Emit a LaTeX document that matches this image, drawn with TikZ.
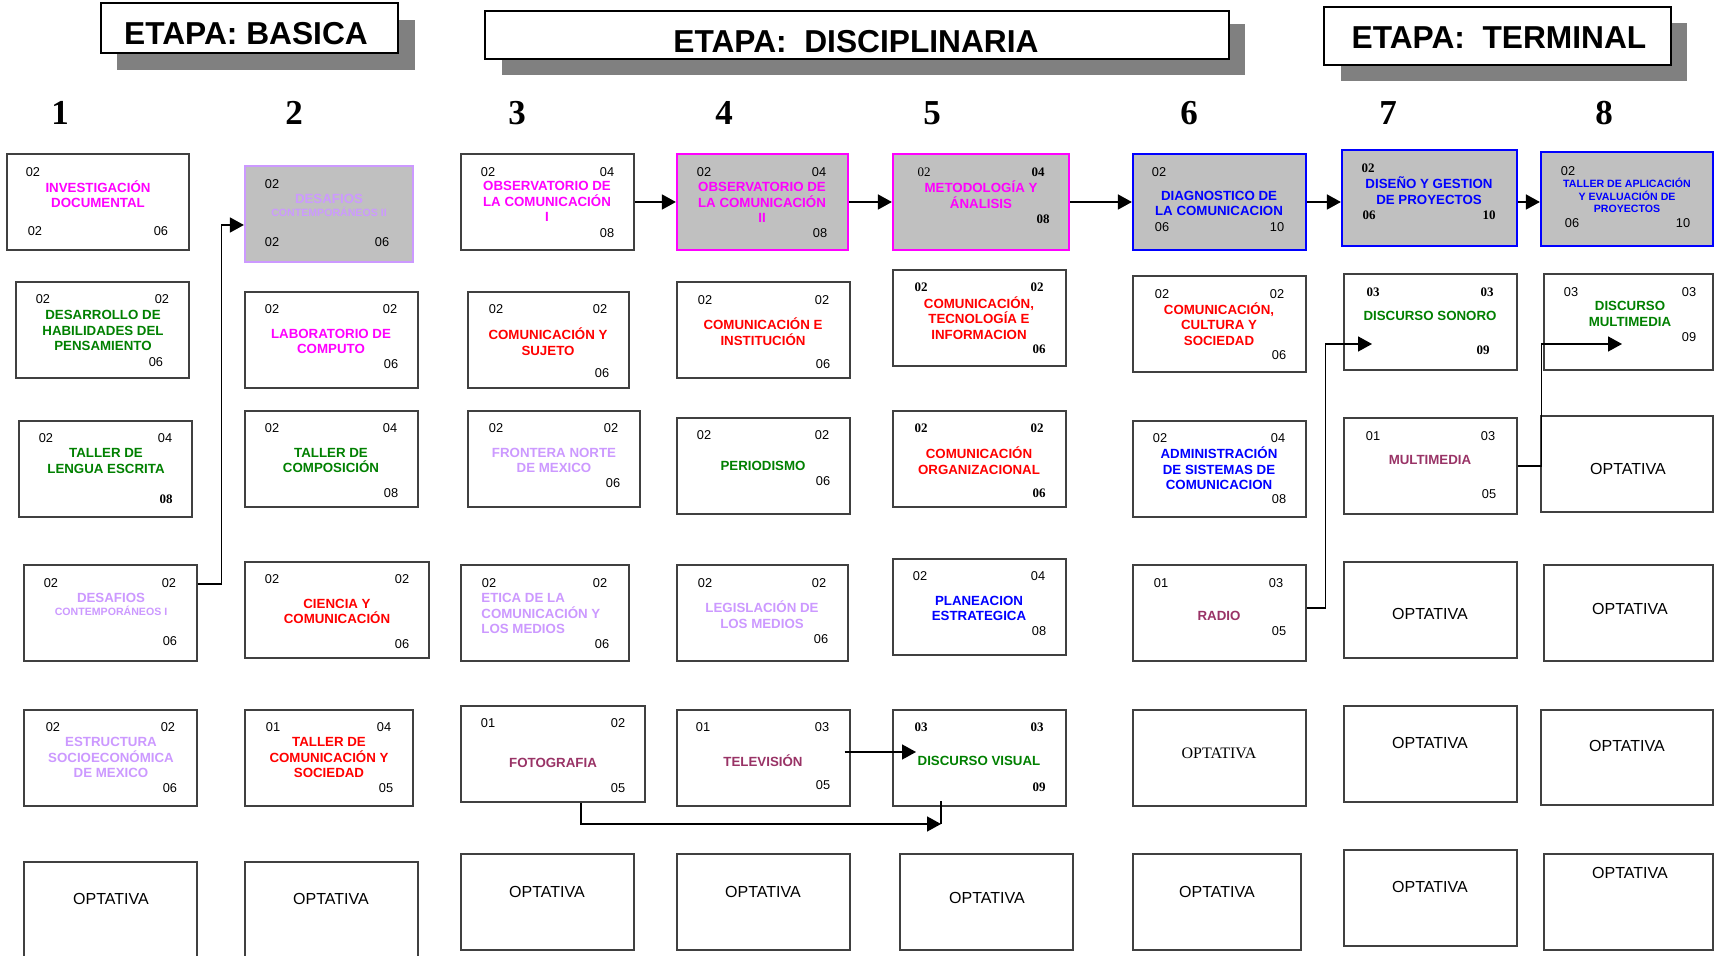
\documentclass[tikz,border=0pt]{standalone}
\usepackage{fontspec}
\setmainfont{Liberation Sans}
\newfontfamily\fSerif{Liberation Serif}
\usepackage{xcolor}
\definecolor{cBorde}{HTML}{404040}
\definecolor{cGris}{HTML}{C0C0C0}
\definecolor{cSombra}{HTML}{808080}
\definecolor{cMag}{HTML}{FF00FF}
\definecolor{cVerde}{HTML}{008000}
\definecolor{cRojo}{HTML}{FF0000}
\definecolor{cLav}{HTML}{CC99FF}
\definecolor{cAzul}{HTML}{0000FF}
\definecolor{cVino}{HTML}{993366}
\usetikzlibrary{arrows.meta,fit}
\newcommand{\fTit}{\bfseries\fontsize{6.65pt}{7.7pt}\selectfont}
\newcommand{\fSub}{\bfseries\fontsize{5.3pt}{6.25pt}\selectfont}
\newcommand{\fNum}{\fontsize{6.4pt}{7pt}\selectfont}
\newcommand{\fNumB}{\fSerif\bfseries\fontsize{6.5pt}{7pt}\selectfont}
\newcommand{\fNumS}{\fSerif\fontsize{6.5pt}{7pt}\selectfont}
\newcommand{\fOpt}{\fontsize{8pt}{9pt}\selectfont}
\newcommand{\fOptS}{\fSerif\fontsize{8pt}{9pt}\selectfont}
\newcommand{\fEtapa}{\bfseries\fontsize{15.85pt}{18pt}\selectfont}
\newcommand{\fSem}{\fSerif\bfseries\fontsize{17.5pt}{20pt}\selectfont}
\tikzset{
  node-curso/.style={draw=cBorde,line width=0.6pt,fill=white,inner sep=0pt},
  node-gris/.style={fill=cGris,line width=1.1pt},
  node-etapa/.style={draw=black,line width=0.9pt,fill=white,inner sep=0pt},
  sombra/.style={fill=cSombra},
  txt-etapa/.style={font=\fEtapa,inner sep=0pt},
  txt-sem/.style={font=\fSem,inner sep=0pt},
  txt-tit/.style={font=\fTit,align=center,inner sep=0pt},
  txt-sub/.style={font=\fSub,align=center,inner sep=0pt},
  txt-num/.style={font=\fNum,inner sep=0pt},
  txt-numb/.style={font=\fNumB,inner sep=0pt},
  txt-nums/.style={font=\fNumS,inner sep=0pt},
  txt-opt/.style={font=\fOpt,inner sep=0pt},
  arrow/.style={-{Triangle[length=7pt,width=7.5pt]},line width=0.8pt},
  arrow-line/.style={line width=0.8pt},
}

\begin{document}
\begin{tikzpicture}[x=0.5pt,y=-0.5pt]
  \useasboundingbox (0,0) rectangle (1714,956);
  % etapas
  \fill[sombra] (117,20) rectangle (415,70);
  \node[node-etapa,fit={(101,3) (398,53)}] (hBas) {};
  \node[txt-etapa] (hBas-t) at (246,34) {ETAPA: BASICA};
  \fill[sombra] (502,24) rectangle (1245,75);
  \node[node-etapa,fit={(485,11) (1229,59)}] (hDis) {};
  \node[txt-etapa] (hDis-t) at (856,42) {ETAPA:~~DISCIPLINARIA};
  \fill[sombra] (1341,23) rectangle (1687,81);
  \node[node-etapa,fit={(1324,7) (1671,65)}] (hTer) {};
  \node[txt-etapa] (hTer-t) at (1499,38) {ETAPA:~~TERMINAL};
  % semestres
  \node[txt-sem] (s1) at (60,113) {1};
  \node[txt-sem] (s2) at (294,113) {2};
  \node[txt-sem] (s3) at (517,113) {3};
  \node[txt-sem] (s4) at (724,113) {4};
  \node[txt-sem] (s5) at (932,113) {5};
  \node[txt-sem] (s6) at (1189,113) {6};
  \node[txt-sem] (s7) at (1388,113) {7};
  \node[txt-sem] (s8) at (1604,113) {8};

  % semestre 1
  \node[node-curso,fit={(7,154) (189,250)}] (c1a) {};
  \node[txt-tit,text=cMag] (c1a-t) at (98,194) {INVESTIGACIÓN\\DOCUMENTAL};
  \node[txt-num] (c1a-1) at (33,172) {02};
  \node[txt-num] (c1a-2) at (35,231) {02};
  \node[txt-num] (c1a-3) at (161,231) {06};
  \node[node-curso,fit={(16,282) (189,378)}] (c1b) {};
  \node[txt-tit,text=cVerde] (c1b-t) at (103,330.5) {DESARROLLO DE\\HABILIDADES DEL\\PENSAMIENTO};
  \node[txt-num] (c1b-1) at (43,299) {02};
  \node[txt-num] (c1b-2) at (162,299) {02};
  \node[txt-num] (c1b-3) at (156,362) {06};
  \node[node-curso,fit={(19,421) (192,517)}] (c1c) {};
  \node[txt-tit,text=cVerde] (c1c-t) at (106,461) {TALLER DE\\LENGUA ESCRITA};
  \node[txt-num] (c1c-1) at (46,438) {02};
  \node[txt-num] (c1c-2) at (165,438) {04};
  \node[txt-numb] (c1c-3) at (166,499) {08};
  \node[node-curso,fit={(24,565) (197,661)}] (c1d) {};
  \node[txt-tit,text=cLav] (c1d-t) at (111,604.5) {DESAFIOS\\[-1.3pt]{\fSub CONTEMPORÁNEOS I}};
  \node[txt-num] (c1d-1) at (51,583) {02};
  \node[txt-num] (c1d-2) at (169,583) {02};
  \node[txt-num] (c1d-3) at (170,641) {06};
  \node[node-curso,fit={(24,710) (197,806)}] (c1e) {};
  \node[txt-tit,text=cLav] (c1e-t) at (111,757.5) {ESTRUCTURA\\SOCIOECONÓMICA\\DE MEXICO};
  \node[txt-num] (c1e-1) at (53,727) {02};
  \node[txt-num] (c1e-2) at (168,727) {02};
  \node[txt-num] (c1e-3) at (170,788) {06};
  \node[node-curso,fit={(24,862) (197,958)}] (c1f) {};
  \node[txt-opt] (c1f-t) at (111,899) {OPTATIVA};

  % semestre 2
  \node[node-curso,node-gris,draw=cLav,fit={(245,166) (413,262)}] (c2a) {};
  \node[txt-tit,text=cLav] (c2a-t) at (329,205.5) {DESAFIOS\\[-1.3pt]{\fSub CONTEMPORÁNEOS II}};
  \node[txt-num] (c2a-1) at (272,184) {02};
  \node[txt-num] (c2a-2) at (272,242) {02};
  \node[txt-num] (c2a-3) at (382,242) {06};
  \node[node-curso,fit={(245,292) (418,388)}] (c2b) {};
  \node[txt-tit,text=cMag] (c2b-t) at (331,341.5) {LABORATORIO DE\\COMPUTO};
  \node[txt-num] (c2b-1) at (272,309) {02};
  \node[txt-num] (c2b-2) at (390,309) {02};
  \node[txt-num] (c2b-3) at (391,364) {06};
  \node[node-curso,fit={(245,411) (418,507)}] (c2c) {};
  \node[txt-tit,text=cVerde] (c2c-t) at (331,460.5) {TALLER DE\\COMPOSICIÓN};
  \node[txt-num] (c2c-1) at (272,428) {02};
  \node[txt-num] (c2c-2) at (390,428) {04};
  \node[txt-num] (c2c-3) at (391,493) {08};
  \node[node-curso,fit={(245,562) (429,658)}] (c2d) {};
  \node[txt-tit,text=cRojo] (c2d-t) at (337,611.5) {CIENCIA Y\\COMUNICACIÓN};
  \node[txt-num] (c2d-1) at (272,579) {02};
  \node[txt-num] (c2d-2) at (402,579) {02};
  \node[txt-num] (c2d-3) at (402,644) {06};
  \node[node-curso,fit={(245,710) (413,806)}] (c2e) {};
  \node[txt-tit,text=cRojo] (c2e-t) at (329,757.5) {TALLER DE\\COMUNICACIÓN Y\\SOCIEDAD};
  \node[txt-num] (c2e-1) at (273,727) {01};
  \node[txt-num] (c2e-2) at (384,727) {04};
  \node[txt-num] (c2e-3) at (386,788) {05};
  \node[node-curso,fit={(245,862) (418,958)}] (c2f) {};
  \node[txt-opt] (c2f-t) at (331,899) {OPTATIVA};

  % semestre 3
  \node[node-curso,fit={(461,154) (634,250)}] (c3a) {};
  \node[txt-tit,text=cMag] (c3a-t) at (547,201.5) {OBSERVATORIO DE\\LA COMUNICACIÓN\\I};
  \node[txt-num] (c3a-1) at (488,172) {02};
  \node[txt-num] (c3a-2) at (607,172) {04};
  \node[txt-num] (c3a-3) at (607,233) {08};
  \node[node-curso,fit={(468,292) (629,388)}] (c3b) {};
  \node[txt-tit,text=cRojo] (c3b-t) at (548,341.5) {COMUNICACIÓN Y\\SUJETO};
  \node[txt-num] (c3b-1) at (496,309) {02};
  \node[txt-num] (c3b-2) at (600,309) {02};
  \node[txt-num] (c3b-3) at (602,373) {06};
  \node[node-curso,fit={(468,411) (640,507)}] (c3c) {};
  \node[txt-tit,text=cLav] (c3c-t) at (554,460.5) {FRONTERA NORTE\\DE MEXICO};
  \node[txt-num] (c3c-1) at (496,428) {02};
  \node[txt-num] (c3c-2) at (611,428) {02};
  \node[txt-num] (c3c-3) at (613,483) {06};
  \node[node-curso,fit={(461,565) (629,661)}] (c3d) {};
  \node[txt-tit,align=left,anchor=west,text=cLav] (c3d-t) at (481,613.5) {ETICA DE LA\\COMUNICACIÓN Y\\LOS MEDIOS};
  \node[txt-num] (c3d-1) at (489,583) {02};
  \node[txt-num] (c3d-2) at (600,583) {02};
  \node[txt-num] (c3d-3) at (602,644) {06};
  \node[node-curso,fit={(461,706) (645,802)}] (c3e) {};
  \node[txt-tit,text=cVino] (c3e-t) at (553,763) {FOTOGRAFIA};
  \node[txt-num] (c3e-1) at (488,723) {01};
  \node[txt-num] (c3e-2) at (618,723) {02};
  \node[txt-num] (c3e-3) at (618,788) {05};
  \node[node-curso,fit={(461,854) (634,950)}] (c3f) {};
  \node[txt-opt] (c3f-t) at (547,892) {OPTATIVA};

  % semestre 4
  \node[node-curso,node-gris,draw=cMag,fit={(677,154) (848,250)}] (c4a) {};
  \node[txt-tit,text=cMag] (c4a-t) at (762,202.5) {OBSERVATORIO DE\\LA COMUNICACIÓN\\II};
  \node[txt-num] (c4a-1) at (704,172) {02};
  \node[txt-num] (c4a-2) at (819,172) {04};
  \node[txt-num] (c4a-3) at (820,233) {08};
  \node[node-curso,fit={(677,282) (850,378)}] (c4b) {};
  \node[txt-tit,text=cRojo] (c4b-t) at (763,331.5) {COMUNICACIÓN E\\INSTITUCIÓN};
  \node[txt-num] (c4b-1) at (705,300) {02};
  \node[txt-num] (c4b-2) at (822,300) {02};
  \node[txt-num] (c4b-3) at (823,364) {06};
  \node[node-curso,fit={(677,418) (850,514)}] (c4c) {};
  \node[txt-tit,text=cVerde] (c4c-t) at (763,466) {PERIODISMO};
  \node[txt-num] (c4c-1) at (704,435) {02};
  \node[txt-num] (c4c-2) at (822,435) {02};
  \node[txt-num] (c4c-3) at (823,481) {06};
  \node[node-curso,fit={(677,565) (848,661)}] (c4d) {};
  \node[txt-tit,text=cLav] (c4d-t) at (762,614.5) {LEGISLACIÓN DE\\LOS MEDIOS};
  \node[txt-num] (c4d-1) at (705,583) {02};
  \node[txt-num] (c4d-2) at (819,583) {02};
  \node[txt-num] (c4d-3) at (821,639) {06};
  \node[node-curso,fit={(677,710) (850,806)}] (c4e) {};
  \node[txt-tit,text=cVino] (c4e-t) at (763,761) {TELEVISIÓN};
  \node[txt-num] (c4e-1) at (703,727) {01};
  \node[txt-num] (c4e-2) at (822,727) {03};
  \node[txt-num] (c4e-3) at (823,785) {05};
  \node[node-curso,fit={(677,854) (850,950)}] (c4f) {};
  \node[txt-opt] (c4f-t) at (763,892) {OPTATIVA};

  % semestre 5
  \node[node-curso,node-gris,draw=cMag,fit={(893,154) (1069,250)}] (c5a) {};
  \node[txt-tit,text=cMag] (c5a-t) at (981,194.5) {METODOLOGÍA Y\\ÁNALISIS};
  \node[txt-nums] (c5a-1) at (924,172) {02};
  \node[txt-numb] (c5a-2) at (1038,172) {04};
  \node[txt-numb] (c5a-3) at (1043,219) {08};
  \node[node-curso,fit={(893,270) (1066,366)}] (c5b) {};
  \node[txt-tit,text=cRojo] (c5b-t) at (979,318) {COMUNICACIÓN,\\TECNOLOGÍA E\\INFORMACION};
  \node[txt-numb] (c5b-1) at (921,287) {02};
  \node[txt-numb] (c5b-2) at (1037,287) {02};
  \node[txt-numb] (c5b-3) at (1039,349) {06};
  \node[node-curso,fit={(893,411) (1066,507)}] (c5c) {};
  \node[txt-tit,text=cRojo] (c5c-t) at (979,460.5) {COMUNICACIÓN\\ORGANIZACIONAL};
  \node[txt-numb] (c5c-1) at (921,428) {02};
  \node[txt-numb] (c5c-2) at (1037,428) {02};
  \node[txt-numb] (c5c-3) at (1039,493) {06};
  \node[node-curso,fit={(893,559) (1066,655)}] (c5d) {};
  \node[txt-tit,text=cAzul] (c5d-t) at (979,608.5) {PLANEACION\\ESTRATEGICA};
  \node[txt-num] (c5d-1) at (920,576) {02};
  \node[txt-num] (c5d-2) at (1038,576) {04};
  \node[txt-num] (c5d-3) at (1039,631) {08};
  \node[node-curso,fit={(893,710) (1066,806)}] (c5e) {};
  \node[txt-tit,text=cVerde] (c5e-t) at (979,761) {DISCURSO VISUAL};
  \node[txt-numb] (c5e-1) at (921,727) {03};
  \node[txt-numb] (c5e-2) at (1037,727) {03};
  \node[txt-numb] (c5e-3) at (1039,787) {09};
  \node[node-curso,fit={(900,854) (1073,950)}] (c5f) {};
  \node[txt-opt] (c5f-t) at (987,898) {OPTATIVA};

  % semestre 6
  \node[node-curso,node-gris,draw=cAzul,fit={(1133,154) (1306,250)}] (c6a) {};
  \node[txt-tit,text=cAzul] (c6a-t) at (1219,203.5) {DIAGNOSTICO DE\\LA COMUNICACION};
  \node[txt-num] (c6a-1) at (1159,172) {02};
  \node[txt-num] (c6a-2) at (1162,227) {06};
  \node[txt-num] (c6a-3) at (1277,227) {10};
  \node[node-curso,fit={(1133,276) (1306,372)}] (c6b) {};
  \node[txt-tit,text=cRojo] (c6b-t) at (1219,324) {COMUNICACIÓN,\\CULTURA Y\\SOCIEDAD};
  \node[txt-num] (c6b-1) at (1162,294) {02};
  \node[txt-num] (c6b-2) at (1277,294) {02};
  \node[txt-num] (c6b-3) at (1279,355) {06};
  \node[node-curso,fit={(1133,421) (1306,517)}] (c6c) {};
  \node[txt-tit,text=cAzul] (c6c-t) at (1219,468.5) {ADMINISTRACIÓN\\DE SISTEMAS DE\\COMUNICACION};
  \node[txt-num] (c6c-1) at (1160,438) {02};
  \node[txt-num] (c6c-2) at (1278,438) {04};
  \node[txt-num] (c6c-3) at (1279,499) {08};
  \node[node-curso,fit={(1133,565) (1306,661)}] (c6d) {};
  \node[txt-tit,text=cVino] (c6d-t) at (1219,616) {RADIO};
  \node[txt-num] (c6d-1) at (1161,583) {01};
  \node[txt-num] (c6d-2) at (1276,583) {03};
  \node[txt-num] (c6d-3) at (1279,631) {05};
  \node[node-curso,fit={(1133,710) (1306,806)}] (c6e) {};
  \node[txt-opt,font=\fOptS] (c6e-t) at (1219,753) {OPTATIVA};
  \node[node-curso,fit={(1133,854) (1301,950)}] (c6f) {};
  \node[txt-opt] (c6f-t) at (1217,892) {OPTATIVA};

  % semestre 7
  \node[node-curso,node-gris,draw=cAzul,fit={(1342,150) (1517,246)}] (c7a) {};
  \node[txt-tit,text=cAzul] (c7a-t) at (1429,190.5) {DISEÑO Y GESTION\\DE PROYECTOS};
  \node[txt-numb] (c7a-1) at (1368,168) {02};
  \node[txt-numb] (c7a-2) at (1369,215) {06};
  \node[txt-numb] (c7a-3) at (1489,215) {10};
  \node[node-curso,fit={(1344,274) (1517,370)}] (c7b) {};
  \node[txt-tit,text=cVerde] (c7b-t) at (1430,316) {DISCURSO SONORO};
  \node[txt-numb] (c7b-1) at (1373,292) {03};
  \node[txt-numb] (c7b-2) at (1487,292) {03};
  \node[txt-numb] (c7b-3) at (1483,350) {09};
  \node[node-curso,fit={(1344,418) (1517,514)}] (c7c) {};
  \node[txt-tit,text=cVino] (c7c-t) at (1430,460) {MULTIMEDIA};
  \node[txt-num] (c7c-1) at (1373,436) {01};
  \node[txt-num] (c7c-2) at (1488,436) {03};
  \node[txt-num] (c7c-3) at (1489,494) {05};
  \node[node-curso,fit={(1344,562) (1517,658)}] (c7d) {};
  \node[txt-opt] (c7d-t) at (1430,614) {OPTATIVA};
  \node[node-curso,fit={(1344,706) (1517,802)}] (c7e) {};
  \node[txt-opt] (c7e-t) at (1430,743) {OPTATIVA};
  \node[node-curso,fit={(1344,850) (1517,946)}] (c7f) {};
  \node[txt-opt] (c7f-t) at (1430,887) {OPTATIVA};

  % semestre 8
  \node[node-curso,node-gris,draw=cAzul,fit={(1541,152) (1713,246)}] (c8a) {};
  \node[txt-sub,text=cAzul] (c8a-t) at (1627,195.5) {TALLER DE APLICACIÓN\\Y EVALUACIÓN DE\\PROYECTOS};
  \node[txt-num] (c8a-1) at (1568,171) {02};
  \node[txt-num] (c8a-2) at (1572,223) {06};
  \node[txt-num] (c8a-3) at (1683,223) {10};
  \node[node-curso,fit={(1544,274) (1713,370)}] (c8b) {};
  \node[txt-tit,text=cVerde] (c8b-t) at (1630,314) {DISCURSO\\MULTIMEDIA};
  \node[txt-num] (c8b-1) at (1571,292) {03};
  \node[txt-num] (c8b-2) at (1689,292) {03};
  \node[txt-num] (c8b-3) at (1689,337) {09};
  \node[node-curso,fit={(1541,416) (1713,512)}] (c8c) {};
  \node[txt-opt] (c8c-t) at (1628,469) {OPTATIVA};
  \node[node-curso,fit={(1544,565) (1713,661)}] (c8d) {};
  \node[txt-opt] (c8d-t) at (1630,609) {OPTATIVA};
  \node[node-curso,fit={(1541,710) (1713,805)}] (c8e) {};
  \node[txt-opt] (c8e-t) at (1627,746) {OPTATIVA};
  \node[node-curso,fit={(1544,854) (1713,950)}] (c8f) {};
  \node[txt-opt] (c8f-t) at (1630,873) {OPTATIVA};

  % seriacion
  \draw[arrow] (c3a.east) -- (c4a.west);
  \draw[arrow] (c4a.east) -- (c5a.west);
  \draw[arrow] (c5a.east) -- (c6a.west);
  \draw[arrow] (c6a.east) -- (c6a.east -| c7a.west);
  \draw[arrow] (c7a.east |- c6a.east) -- (c6a.east -| c8a.west);
  \draw[arrow] ([yshift=14.5pt]c1d.east) -- ++(24,0) |- ([yshift=-5.5pt]c2a.west);
  \coordinate (dv-in) at (916,752);
  \draw[arrow] ([xshift=-3pt,yshift=3pt]c4e.east) -- (dv-in);
  \coordinate (foto-in) at (941,824);
  \draw[arrow] ([xshift=14pt]c3e.south) |- (foto-in);
  \draw[arrow-line] (foto-in) -- ([yshift=3pt]foto-in |- c5e.south);
  \coordinate (son-in) at (1372,344);
  \draw[arrow] ([yshift=2.5pt]c6d.east) -- ++(19,0) |- (son-in);
  \coordinate (mm-in) at (1622,344);
  \draw[arrow] (c7c.east) -- ++(24,0) |- (mm-in);
\end{tikzpicture}
\end{document}
